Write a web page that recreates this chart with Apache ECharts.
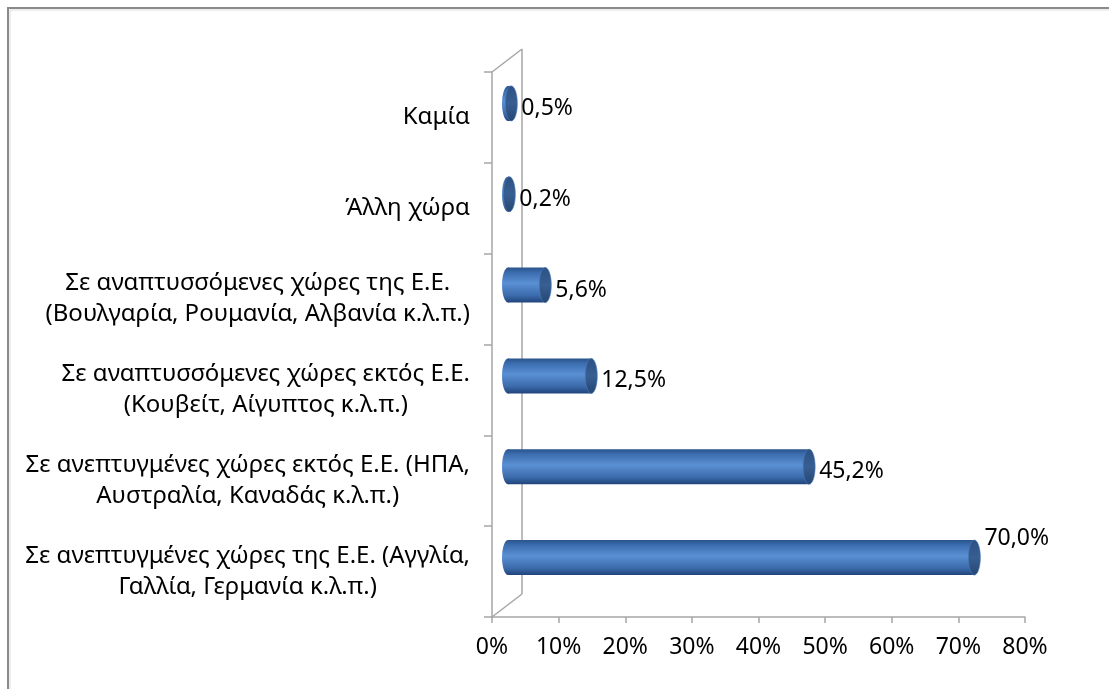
<!DOCTYPE html>
<html>
<head>
<meta charset="utf-8">
<script src="https://cdn.jsdelivr.net/npm/echarts@6/dist/echarts.min.js"></script>
<style>
  html, body { margin: 0; padding: 0; background: #fff; }
  #chart { width: 1109px; height: 689px; }
</style>
</head>
<body>
<div id="chart"></div>
<script>
// categories from bottom to top (category axis order)
const categories = [
    'Σε ανεπτυγμένες χώρες της Ε.Ε. (Αγγλία,\nΓαλλία, Γερμανία κ.λ.π.)',
    'Σε ανεπτυγμένες χώρες εκτός Ε.Ε. (ΗΠΑ,\nΑυστραλία, Καναδάς κ.λ.π.)',
    'Σε αναπτυσσόμενες χώρες εκτός Ε.Ε.\n(Κουβείτ, Αίγυπτος κ.λ.π.)',
    'Σε αναπτυσσόμενες χώρες της Ε.Ε.\n(Βουλγαρία, Ρουμανία, Αλβανία κ.λ.π.)',
    'Άλλη χώρα',
    'Καμία'
];
const percentValues = [70.0, 45.2, 12.5, 5.6, 0.2, 0.5];
const axisMin = 0;
const axisMax = 80;
const axisStep = 10;

const FONT = '"Noto Sans", sans-serif';
const DEPTH_X = 30, DEPTH_Y = -23;      // 3d wall depth
const BAR_SHIFT_X = 16, BAR_SHIFT_Y = -14;
const BAR_H = 35, CAP_RX = 6;

const fmt = v => v.toFixed(1).replace('.', ',') + '%';

const chartDom = document.getElementById('chart');
const myChart = echarts.init(chartDom, null, { renderer: 'canvas' });

const barData = percentValues.map((v, i) => [v, i]);

const renderBar = (params, api) => {
    const v = api.value(0), idx = api.value(1);
    const p0 = api.coord([0, idx]), p1 = api.coord([v, idx]);
    const x0 = p0[0] + BAR_SHIFT_X, x1 = p1[0] + BAR_SHIFT_X;
    const cy = p0[1] + BAR_SHIFT_Y;
    const cs = params.coordSys;
    const body = new echarts.graphic.LinearGradient(0, 0, 0, 1, [
        { offset: 0, color: '#2a548c' },
        { offset: 0.15, color: '#3c6eb0' },
        { offset: 0.45, color: '#5a90d4' },
        { offset: 0.8, color: '#3b6bab' },
        { offset: 1, color: '#20447a' }
    ]);
    const cap = new echarts.graphic.LinearGradient(0, 0, 0, 1, [
        { offset: 0, color: '#2c5184' },
        { offset: 0.5, color: '#385f92' },
        { offset: 1, color: '#244673' }
    ]);
    const overflow = x1 + 75 > cs.x + cs.width;
    return {
        type: 'group',
        children: [
            { type: 'ellipse', shape: { cx: x0, cy: cy, rx: CAP_RX, ry: BAR_H / 2 }, style: { fill: body } },
            { type: 'rect', shape: { x: x0, y: cy - BAR_H / 2, width: Math.max(x1 - x0, 0), height: BAR_H }, style: { fill: body } },
            { type: 'ellipse', shape: { cx: x1, cy: cy, rx: CAP_RX, ry: BAR_H / 2 }, style: { fill: cap, stroke: '#4a78b2', lineWidth: 0.6 } },
            {
                type: 'text',
                x: x1 + CAP_RX + 4,
                y: overflow ? cy - 19 : cy + 5,
                style: { text: fmt(v), fontSize: 23, fontFamily: FONT, fill: '#000', verticalAlign: 'middle', align: 'left' }
            }
        ]
    };
};

const renderWall = (params, api) => {
    const cs = params.coordSys;
    const xl = cs.x, yt = cs.y, yb = cs.y + cs.height;
    const st = { stroke: '#a6a6a6', lineWidth: 1.5 };
    return {
        type: 'group',
        silent: true,
        children: [
            { type: 'line', shape: { x1: xl, y1: yb, x2: xl + DEPTH_X, y2: yb + DEPTH_Y }, style: st },
            { type: 'line', shape: { x1: xl + DEPTH_X, y1: yb + DEPTH_Y, x2: xl + DEPTH_X, y2: yt + DEPTH_Y }, style: st },
            { type: 'line', shape: { x1: xl, y1: yt, x2: xl + DEPTH_X, y2: yt + DEPTH_Y }, style: st }
        ]
    };
};

const option = {
    animation: false,
    backgroundColor: '#fff',
    graphic: [
        { type: 'rect', shape: { x: 8, y: 8, width: 1200, height: 800 }, style: { fill: 'none', stroke: '#8a8a8a', lineWidth: 2 }, silent: true },
        { type: 'rect', shape: { x: 10, y: 10, width: 1200, height: 800 }, style: { fill: 'none', stroke: '#dcdcdc', lineWidth: 1 }, silent: true }
    ],
    grid: { left: 492, right: 84, top: 72, bottom: 72, containLabel: false },
    xAxis: {
        type: 'value',
        min: axisMin,
        max: axisMax,
        interval: axisStep,
        axisLine: { show: true, lineStyle: { color: '#a6a6a6', width: 1.5 } },
        axisTick: { show: true, length: 6, lineStyle: { color: '#a6a6a6', width: 1.5 } },
        splitLine: { show: false },
        axisLabel: { formatter: '{value}%', color: '#000', fontSize: 23, fontFamily: FONT, margin: 19 }
    },
    yAxis: {
        type: 'category',
        data: categories,
        boundaryGap: true,
        axisLine: { show: true, lineStyle: { color: '#a6a6a6', width: 1.5 } },
        axisTick: { show: true, length: 8, lineStyle: { color: '#a6a6a6', width: 1.5 } },
        axisLabel: {
            margin: 22,
            color: '#000',
            formatter: value => value.split('\n').map(l => '{c|' + l + '}').join('\n'),
            rich: { c: { align: 'center', fontSize: 24, lineHeight: 31, fontFamily: FONT, color: '#000' } }
        }
    },
    series: [
        { type: 'custom', renderItem: renderWall, data: [[0, 0]], silent: true, z: 1 },
        { type: 'custom', renderItem: renderBar, data: barData, encode: { x: 0, y: 1 }, z: 2 }
    ]
};

myChart.setOption(option);
window.addEventListener('resize', myChart.resize);
</script>
</body>
</html>
